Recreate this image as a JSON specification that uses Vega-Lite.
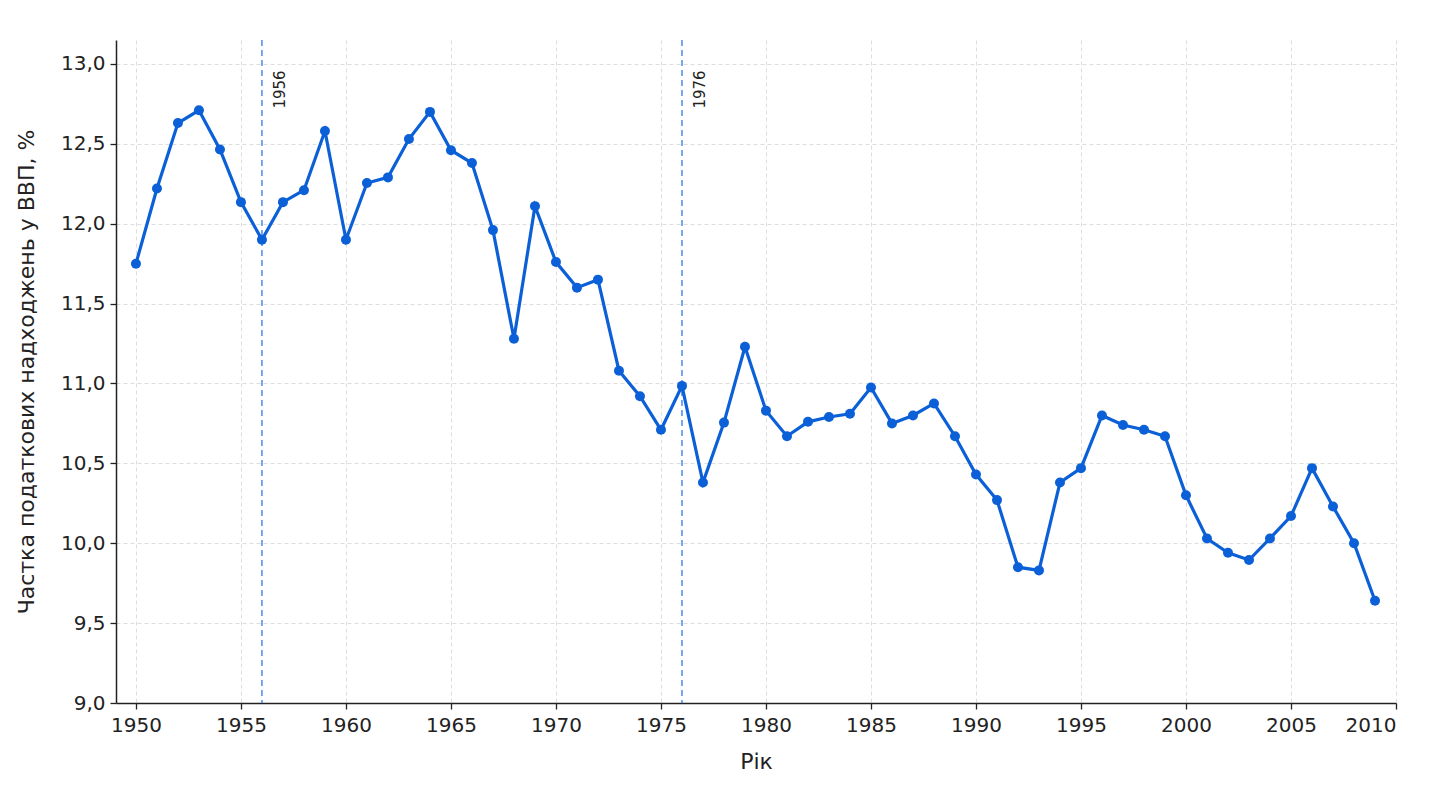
{
  "$schema": "https://vega.github.io/schema/vega-lite/v6.json",
  "autosize": {"type": "none"},
  "padding": {"left": 116, "top": 40, "right": 34, "bottom": 90},
  "width": 1280,
  "height": 663,
  "background": "#ffffff",
  "config": {
    "locale": {
      "number": {"decimal": ",", "thousands": " ", "grouping": [3], "currency": ["", " ₴"]}
    },
    "font": "DejaVu Sans",
    "view": {"stroke": null},
    "axis": {
      "labelFont": "DejaVu Sans",
      "titleFont": "DejaVu Sans",
      "labelColor": "#222222",
      "titleColor": "#222222",
      "domainColor": "#222222",
      "tickColor": "#222222",
      "domainWidth": 1.5,
      "tickWidth": 1.3,
      "tickSize": 6,
      "gridColor": "#dddddd",
      "gridDash": [4, 3],
      "gridWidth": 1,
      "titleFontWeight": "normal"
    }
  },
  "datasets": {
    "tax": [
      {"year": 1950, "share": 11.75},
      {"year": 1951, "share": 12.22},
      {"year": 1952, "share": 12.63},
      {"year": 1953, "share": 12.71},
      {"year": 1954, "share": 12.465},
      {"year": 1955, "share": 12.135},
      {"year": 1956, "share": 11.9},
      {"year": 1957, "share": 12.135},
      {"year": 1958, "share": 12.21},
      {"year": 1959, "share": 12.58},
      {"year": 1960, "share": 11.9},
      {"year": 1961, "share": 12.255},
      {"year": 1962, "share": 12.29},
      {"year": 1963, "share": 12.53},
      {"year": 1964, "share": 12.7},
      {"year": 1965, "share": 12.46},
      {"year": 1966, "share": 12.38},
      {"year": 1967, "share": 11.96},
      {"year": 1968, "share": 11.28},
      {"year": 1969, "share": 12.11},
      {"year": 1970, "share": 11.76},
      {"year": 1971, "share": 11.6},
      {"year": 1972, "share": 11.65},
      {"year": 1973, "share": 11.08},
      {"year": 1974, "share": 10.92},
      {"year": 1975, "share": 10.71},
      {"year": 1976, "share": 10.985},
      {"year": 1977, "share": 10.38},
      {"year": 1978, "share": 10.755},
      {"year": 1979, "share": 11.23},
      {"year": 1980, "share": 10.83},
      {"year": 1981, "share": 10.67},
      {"year": 1982, "share": 10.76},
      {"year": 1983, "share": 10.79},
      {"year": 1984, "share": 10.81},
      {"year": 1985, "share": 10.975},
      {"year": 1986, "share": 10.75},
      {"year": 1987, "share": 10.8},
      {"year": 1988, "share": 10.875},
      {"year": 1989, "share": 10.67},
      {"year": 1990, "share": 10.43},
      {"year": 1991, "share": 10.27},
      {"year": 1992, "share": 9.85},
      {"year": 1993, "share": 9.83},
      {"year": 1994, "share": 10.38},
      {"year": 1995, "share": 10.47},
      {"year": 1996, "share": 10.8},
      {"year": 1997, "share": 10.74},
      {"year": 1998, "share": 10.71},
      {"year": 1999, "share": 10.67},
      {"year": 2000, "share": 10.3},
      {"year": 2001, "share": 10.03},
      {"year": 2002, "share": 9.94},
      {"year": 2003, "share": 9.895},
      {"year": 2004, "share": 10.03},
      {"year": 2005, "share": 10.17},
      {"year": 2006, "share": 10.47},
      {"year": 2007, "share": 10.23},
      {"year": 2008, "share": 10.0},
      {"year": 2009, "share": 9.64}
    ],
    "marks": [
      {"year": 1956, "label": "1956"},
      {"year": 1976, "label": "1976"}
    ]
  },
  "layer": [
    {
      "data": {"name": "marks"},
      "mark": {"type": "rule", "color": "#3b82f0", "strokeWidth": 1.4, "strokeDash": [6, 4]},
      "encoding": {
        "x": {"field": "year", "type": "quantitative"}
      }
    },
    {
      "data": {"name": "marks"},
      "mark": {
        "type": "text",
        "angle": 270,
        "align": "right",
        "baseline": "top",
        "dy": 11,
        "fontSize": 15,
        "color": "#222222",
        "font": "DejaVu Sans"
      },
      "encoding": {
        "x": {"field": "year", "type": "quantitative"},
        "y": {"datum": 12.96},
        "text": {"field": "label"}
      }
    },
    {
      "data": {"name": "tax"},
      "mark": {
        "type": "line",
        "color": "#0b60d8",
        "strokeWidth": 3.2,
        "point": {"filled": true, "size": 100, "color": "#0b60d8"}
      },
      "encoding": {
        "x": {
          "field": "year",
          "type": "quantitative",
          "title": "Рік",
          "scale": {"domain": [1949.05, 2010], "nice": false, "zero": false},
          "axis": {
            "values": [1950, 1955, 1960, 1965, 1970, 1975, 1980, 1985, 1990, 1995, 2000, 2005, 2010],
            "format": "d",
            "labelFontSize": 20,
            "titleFontSize": 22,
            "labelPadding": 6,
            "titlePadding": 16,
            "grid": true
          }
        },
        "y": {
          "field": "share",
          "type": "quantitative",
          "title": "Частка податкових надходжень у ВВП, %",
          "scale": {"domain": [9, 13.15], "nice": false, "zero": false},
          "axis": {
            "values": [9, 9.5, 10, 10.5, 11, 11.5, 12, 12.5, 13],
            "format": ".1f",
            "labelFontSize": 20,
            "titleFontSize": 22,
            "labelPadding": 5,
            "titlePadding": 22,
            "grid": true
          }
        }
      }
    }
  ]
}
